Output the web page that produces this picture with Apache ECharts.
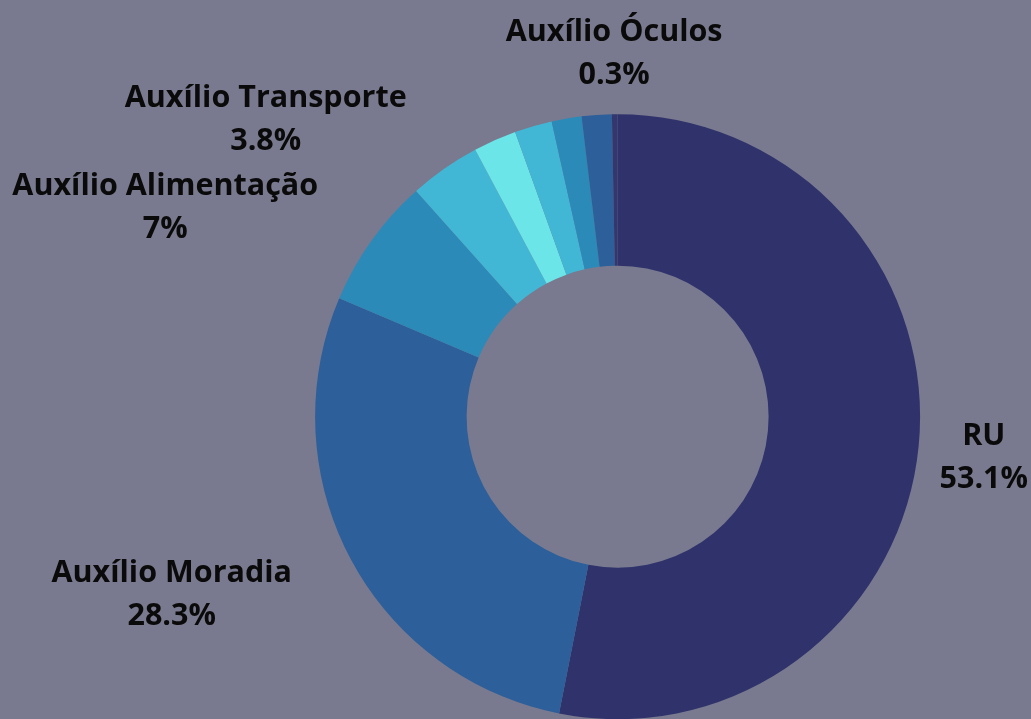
<!DOCTYPE html>
<html>
<head>
<meta charset="utf-8">
<script src="https://cdn.jsdelivr.net/npm/echarts@6/dist/echarts.min.js"></script>
<style>
html,body{margin:0;padding:0;background:#797a8f;}
#chart{width:1031px;height:719px;}
</style>
</head>
<body>
<div id="chart"></div>
<script>
const categories = ['RU', 'Auxílio Moradia', 'Auxílio Alimentação', 'Auxílio Transporte', 'Outro auxílio 1', 'Outro auxílio 2', 'Outro auxílio 3', 'Outro auxílio 4', 'Auxílio Óculos'];
const values = [53.1, 28.3, 7, 3.8, 2.3, 2.0, 1.6, 1.6, 0.3];
const showLabel = [true, true, true, true, false, false, false, false, true];
const colors = ['#30336b', '#2d5f9a', '#2c8ab8', '#42b7d5', '#6be5e8', '#42b7d5', '#2c8ab8', '#2d5f9a', '#33376e'];

const W = 1031;
const CX = 617.6, CY = 416.7, R_IN = 151, R_OUT = 302.5, LINE_LEN = 66, LINE_LEN2 = 0, EDGE = 3, LABEL_DY = 5.5;

// mid angle (clockwise from 12 o'clock) of every slice, from the values
const total = values.reduce((a, b) => a + b, 0);
const midAngles = [];
let acc = 0;
values.forEach(v => { midAngles.push((acc + v / 2) / total * 2 * Math.PI); acc += v; });

const chart = echarts.init(document.getElementById('chart'), null, {renderer: 'canvas'});
const data = categories.map((name, i) => ({
  name: name,
  value: values[i],
  itemStyle: {color: colors[i]},
  label: {show: showLabel[i]}
}));
chart.setOption({
  backgroundColor: '#797a8f',
  animation: false,
  series: [{
    type: 'pie',
    center: [CX, CY],
    radius: [R_IN, R_OUT],
    startAngle: 90,
    clockwise: true,
    avoidLabelOverlap: false,
    data: data,
    label: {
      position: 'outside',
      overflow: 'none',
      distanceToLabelLine: 0,
      formatter: '{a|{b}}\n{a|{c}%}',
      rich: {
        a: {
          fontFamily: 'Open Sans',
          fontWeight: 'bold',
          fontSize: 30.5,
          lineHeight: 43,
          color: '#0a0a0a',
          align: 'center'
        }
      }
    },
    labelLine: {show: false, length: LINE_LEN, length2: LINE_LEN2},
    labelLayout: function (p) {
      const r = p.labelRect;
      const mid = midAngles[p.dataIndex];
      let xc = r.x + r.width / 2;
      const yc = r.y + r.height / 2 + LABEL_DY;
      // near-vertical slices: centre the label over the slice
      if (Math.abs(Math.sin(mid)) < 0.1) {
        xc = CX + (R_OUT + LINE_LEN) * Math.sin(mid);
      }
      // keep label inside the view
      xc = Math.min(xc, W - EDGE - r.width / 2);
      xc = Math.max(xc, EDGE + r.width / 2);
      return {x: xc, y: yc, align: 'center', verticalAlign: 'middle'};
    }
  }]
});
</script>
</body>
</html>
